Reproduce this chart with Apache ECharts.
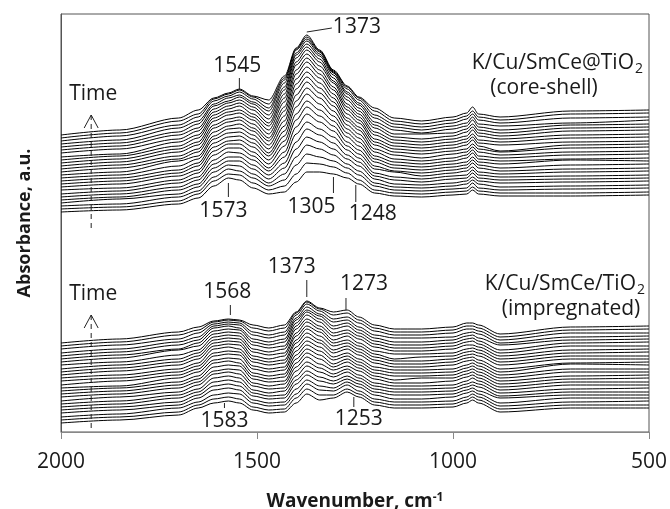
<!DOCTYPE html>
<html>
<head>
<meta charset="utf-8">
<script src="https://cdn.jsdelivr.net/npm/echarts@6/dist/echarts.min.js"></script>
<style>
  html, body { margin: 0; padding: 0; background: #fff; }
  #chart { width: 670px; height: 509px; }
</style>
</head>
<body>
<div id="chart"></div>
<script>
// wavenumber grid shared by all spectra (cm-1)
var wavenumbers = [2000, 1850, 1700, 1650, 1610, 1573, 1545, 1510, 1470, 1430, 1400, 1373, 1340,
  1305, 1270, 1240, 1200, 1150, 1080, 1000, 965, 950, 935, 880, 700, 500];

// K/Cu/SmCe@TiO2 (core-shell), stacked spectra, first (bottom) to last (top), a.u.
var coreShell = [
  [220,222,228,234,246,254,252,244,238,240,250,260,260,258,254,248,239,236,235,237,238,242,238,236,236,237],
  [223,225,231,238,251,258,257,249,242,246,258,269,268,265,259,252,242,239,238,240,241,245,241,239,239,240],
  [226,228,235,241,255,263,261,254,246,252,267,278,275,271,264,257,246,242,241,243,244,249,244,242,243,244],
  [229,233,238,245,260,267,266,258,249,258,275,287,283,277,268,261,249,245,244,246,248,252,248,245,246,247],
  [232,235,242,248,264,271,271,263,253,264,283,295,290,283,273,266,253,248,247,249,251,255,251,249,250,251],
  [235,238,245,252,268,275,275,267,257,269,290,303,297,289,277,270,256,252,250,253,254,259,254,252,253,254],
  [238,241,249,255,272,280,279,272,261,275,298,310,303,295,282,274,259,255,253,256,257,262,257,255,256,257],
  [242,244,252,259,277,284,284,276,264,280,305,318,310,301,286,278,263,260,256,259,261,265,260,258,260,261],
  [245,248,256,262,281,288,288,280,268,286,312,325,316,306,290,282,266,261,259,262,264,269,264,261,263,264],
  [248,251,259,266,285,291,292,285,272,291,318,331,322,311,295,286,270,264,262,265,267,272,267,264,267,268],
  [251,254,262,269,289,295,296,289,276,296,325,338,328,316,299,290,273,267,265,268,270,275,270,268,272,271],
  [254,257,266,273,293,299,300,293,279,301,331,344,334,321,303,294,276,270,268,271,274,279,273,271,273,274],
  [257,260,271,276,296,303,304,297,283,306,337,350,339,326,307,298,280,273,271,274,277,282,276,274,277,278],
  [260,264,273,280,300,306,308,301,287,311,343,355,344,330,311,302,283,277,274,278,280,285,280,277,280,281],
  [263,267,276,283,304,310,312,304,291,316,348,360,349,334,314,305,287,280,278,281,283,288,283,280,284,285],
  [266,270,280,287,307,313,315,308,294,321,353,365,354,338,318,309,290,283,281,284,287,292,286,281,287,288],
  [269,273,283,290,311,317,319,312,298,325,358,370,358,342,322,312,293,286,284,287,290,295,289,287,290,291],
  [272,276,286,294,314,320,322,315,302,330,362,374,362,345,325,315,297,289,287,290,293,298,292,290,294,295],
  [275,278,290,297,317,323,326,318,306,334,367,378,366,349,328,318,300,292,290,293,296,302,296,293,297,298],
  [279,283,293,301,320,326,329,322,309,338,370,382,370,351,332,321,304,295,293,296,300,305,299,296,301,302],
  [282,286,297,304,323,329,332,325,313,342,374,385,373,354,335,324,307,298,298,299,303,308,302,299,304,305],
  [285,289,300,308,326,331,335,328,317,345,377,388,376,357,338,327,310,302,299,303,306,312,305,302,307,308],
  [288,292,304,311,328,334,337,330,321,349,379,391,378,359,340,329,314,305,302,306,309,315,308,306,309,312],
  [291,296,307,315,331,336,340,333,324,352,382,393,380,360,343,332,317,308,305,309,313,318,312,309,314,315],
  [294,299,311,318,333,338,342,335,328,354,383,395,381,361,345,334,321,311,308,312,316,321,315,312,318,319],
  [297,302,314,322,334,339,343,336,332,356,384,397,382,362,346,335,324,314,311,315,319,325,318,315,321,322]
];

// K/Cu/SmCe/TiO2 (impregnated), stacked spectra, first (bottom) to last (top), a.u.
var impregnated = [
  [9,12,17,24,29,31,29,22,19,20,29,38,32,34,40,35,27,24,24,25,29,32,29,20,24,24],
  [12,15,20,27,33,35,33,25,22,23,34,43,37,37,43,38,30,27,27,28,32,35,32,23,27,27],
  [15,18,24,30,37,39,38,29,26,27,38,48,42,41,47,41,33,30,30,31,35,38,35,26,30,31],
  [19,22,27,34,42,44,42,32,29,30,43,52,46,44,50,45,37,33,33,35,39,41,38,29,34,34],
  [22,25,30,37,46,48,46,36,33,34,48,57,51,48,53,48,40,37,37,38,42,44,41,34,37,37],
  [25,28,34,40,50,52,50,39,36,37,52,61,55,51,56,51,43,40,40,41,45,47,45,36,40,40],
  [28,31,37,43,54,56,54,42,39,41,56,66,60,55,60,54,46,43,43,44,48,50,48,39,43,44],
  [31,35,40,47,58,60,58,46,43,44,61,70,64,58,63,57,49,46,46,47,51,54,51,42,47,47],
  [35,38,44,50,61,63,62,49,46,48,65,75,68,62,66,61,53,49,49,51,55,57,54,45,50,50],
  [38,41,47,53,65,67,66,53,50,51,69,79,73,65,70,64,56,52,54,54,58,60,57,48,53,54],
  [41,44,50,56,69,71,69,56,53,55,73,83,77,68,73,67,59,56,56,57,61,63,60,51,56,57],
  [44,46,54,60,72,74,73,59,56,58,77,87,81,72,76,70,62,59,59,60,64,66,63,54,60,60],
  [47,51,57,63,76,78,77,63,60,62,81,91,85,75,79,73,65,62,62,63,67,69,66,57,63,63],
  [51,54,60,66,79,81,80,66,63,65,85,95,89,79,83,77,69,65,65,67,71,72,69,60,68,67],
  [54,57,63,69,83,85,83,70,67,69,89,99,92,82,86,80,72,68,68,70,74,75,72,63,69,70],
  [57,61,67,73,86,88,87,73,70,72,92,103,96,86,89,83,75,71,71,73,77,78,76,67,73,73],
  [60,64,70,76,89,91,90,76,73,76,96,106,100,89,92,86,78,73,75,76,80,81,79,70,76,76],
  [63,67,73,79,92,94,93,80,77,79,99,110,103,92,96,89,81,78,78,79,83,84,82,73,79,80],
  [67,70,77,82,95,97,96,83,80,83,103,113,106,96,99,93,85,81,81,83,87,87,85,76,82,83],
  [70,74,82,86,98,100,99,87,84,86,106,117,110,99,102,96,88,84,84,86,90,91,88,79,86,86],
  [73,77,83,89,101,103,102,90,87,90,109,120,113,103,106,99,91,87,87,89,93,94,91,82,89,90],
  [76,80,87,92,104,106,104,93,90,93,112,122,116,106,109,102,94,90,90,92,96,97,94,87,92,93],
  [79,83,90,95,106,108,107,97,94,97,114,125,118,110,112,105,97,94,94,95,99,100,98,89,95,96],
  [83,87,93,99,108,110,109,100,97,100,117,128,121,113,115,109,101,97,97,99,103,103,101,92,99,99],
  [86,90,97,102,110,112,111,104,101,104,119,130,123,117,119,112,104,100,100,102,106,106,104,95,102,103],
  [89,93,100,105,111,113,112,107,104,107,120,131,124,120,122,115,107,103,103,105,109,109,107,98,105,106]
];

// peak labels: [text, wavenumber, label y (a.u.), tick from, tick to, label x shift px]
var peakLabels = [
  ['1545', 1545, 366, 354, 342, -2],
  ['1573', 1573, 221, 249, 235, -5],
  ['1305', 1305, 225, 255, 239, -22],
  ['1248', 1248, 218, 247, 230, 17],
  ['1373', 1373, 165, 152, 135, -15],
  ['1568', 1568, 140, 127, 117, -3],
  ['1273', 1273, 148, 134, 122, 18],
  ['1583', 1583, 11, 29, 24, 0],
  ['1253', 1253, 13, 35, 25, 5]
];

var FONT = "'Open Sans', 'DejaVu Sans', sans-serif";
var INK = '#1a1a1a';

var myChart = echarts.init(document.getElementById('chart'));

function toSeries(rows) {
  return rows.map(function (row) {
    return {
      type: 'line',
      data: row.map(function (v, k) { return [wavenumbers[k], v]; }),
      symbol: 'none',
      smooth: 0.3,
      smoothMonotone: 'x',
      silent: true,
      lineStyle: { color: '#000', width: 1 }
    };
  });
}

var option = {
  animation: false,
  grid: {
    left: 61, right: 21, top: 14, bottom: 77,
    outerBoundsMode: 'none',
    show: true, borderColor: '#555', borderWidth: 1, backgroundColor: 'transparent'
  },
  xAxis: {
    type: 'value',
    inverse: true,
    min: 500, max: 2000, interval: 500,
    name: 'Wavenumber, cm{sup|-1}',
    nameLocation: 'middle',
    nameGap: 60,
    nameTextStyle: {
      fontFamily: FONT, fontWeight: 'bold', fontSize: 19, color: INK,
      rich: { sup: { fontFamily: FONT, fontWeight: 'bold', fontSize: 12, color: INK, verticalAlign: 'top', padding: [0, 0, 8, 0] } }
    },
    axisLine: { show: true, lineStyle: { color: '#888', width: 1 } },
    axisTick: { show: true, inside: false, length: 7, lineStyle: { color: '#888' } },
    axisLabel: {
      fontFamily: FONT, fontSize: 21, color: INK, margin: 20,
      formatter: function (v) { return String(v); }
    },
    splitLine: { show: false }
  },
  yAxis: {
    type: 'value',
    min: 0, max: 418,
    name: 'Absorbance, a.u.',
    nameLocation: 'middle',
    nameRotate: 90,
    nameGap: 27,
    nameTextStyle: { fontFamily: FONT, fontWeight: 'bold', fontSize: 18, color: INK },
    axisLine: { show: true, lineStyle: { color: '#555', width: 1 } },
    axisTick: { show: false },
    axisLabel: { show: false },
    splitLine: { show: false }
  },
  series: toSeries(coreShell).concat(toSeries(impregnated))
};
myChart.setOption(option);

// annotations placed through the chart's own coordinate system
function px(wn, a) { return myChart.convertToPixel({ gridIndex: 0 }, [wn, a]); }
function label(text, x, y, align, size) {
  return {
    type: 'text', x: x, y: y, z: 20,
    style: { text: text, font: (size || 21) + 'px ' + FONT, fill: INK, align: align || 'center', verticalAlign: 'middle' }
  };
}
function seg(p1, p2, dashed) {
  return {
    type: 'line', z: 20,
    shape: { x1: p1[0], y1: p1[1], x2: p2[0], y2: p2[1] },
    style: { stroke: '#222', lineWidth: 1, lineDash: dashed ? [5, 4] : null }
  };
}

var els = [];
peakLabels.forEach(function (p) {
  var t1 = px(p[1], p[3]), t2 = px(p[1], p[4]), tx = px(p[1], p[2]);
  els.push(seg(t1, t2));
  els.push(label(p[0], tx[0] + p[5], tx[1]));
});
// 1373 leader on the core-shell panel
var peakTop = px(1373, 400), leadEnd = px(1309, 404);
els.push(seg(peakTop, leadEnd));
els.push(label('1373', leadEnd[0] + 1, leadEnd[1] - 1, 'left'));

// time arrows
[[317, 202], [117, 0]].forEach(function (r) {
  var top = px(1923, r[0]), bot = px(1923, r[1]);
  els.push(seg(top, bot, true));
  els.push(seg([top[0] - 7, top[1] + 13], top));
  els.push(seg([top[0] + 7, top[1] + 13], top));
  els.push(label('Time', top[0] + 2, top[1] - 21));
});

// sample names
els.push(label('K/Cu/SmCe@TiO', 634, 63, 'right'));
els.push(label('2', 635, 69, 'left', 14));
els.push(label('(core-shell)', 544, 88));
els.push(label('K/Cu/SmCe/TiO', 636, 284, 'right'));
els.push(label('2', 637, 290, 'left', 14));
els.push(label('(impregnated)', 571, 309));

myChart.setOption({ graphic: { elements: els } });
</script>
</body>
</html>
